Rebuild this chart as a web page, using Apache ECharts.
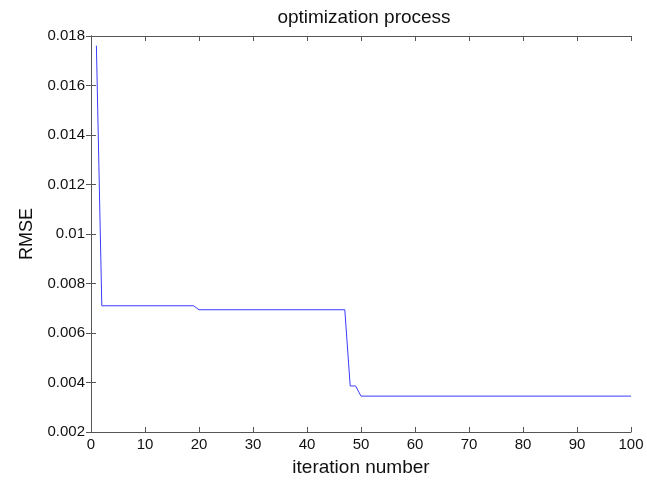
<!DOCTYPE html>
<html>
<head>
<meta charset="utf-8">
<script src="https://cdn.jsdelivr.net/npm/echarts@6/dist/echarts.min.js"></script>
<style>
  html, body { margin: 0; padding: 0; background: #fff; }
  #chart { width: 647px; height: 482px; }
</style>
</head>
<body>
<div id="chart"></div>
<script>
  // iteration numbers where the curve changes, and the RMSE at each
  var iterations = [1, 2, 19, 20, 47, 48, 49, 50, 100];
  var rmse = [0.01761, 0.00710, 0.00710, 0.00694, 0.00694, 0.00386, 0.00386, 0.00345, 0.00345];

  var xTicks = {min: 0, max: 100, interval: 10};
  var yTicks = {min: 0.002, max: 0.018, interval: 0.002};

  var font = 'Liberation Sans, Arial, sans-serif';
  var axisColor = '#555';

  function boxAxis(base, showLabel) {
    return Object.assign({
      type: 'value',
      axisLine: {show: true, lineStyle: {color: axisColor, width: 1}},
      axisTick: {show: true, inside: true, length: 5, lineStyle: {color: axisColor}},
      splitLine: {show: false},
      axisLabel: {show: showLabel, color: '#111', fontSize: 15, fontFamily: font},
    }, base);
  }

  var chart = echarts.init(document.getElementById('chart'));
  var option = {
    animation: false,
    title: {
      text: 'optimization process',
      left: 359,
      textAlign: 'center',
      top: 3,
      textStyle: {fontSize: 19, fontWeight: 'normal', color: '#111', fontFamily: font},
    },
    grid: {left: 91, right: 16, top: 36, bottom: 48},
    xAxis: [
      boxAxis(Object.assign({
        position: 'bottom',
        name: 'iteration number',
        nameLocation: 'middle',
        nameGap: 26,
        nameTextStyle: {fontSize: 19, color: '#111', fontFamily: font},
      }, xTicks), true),
      boxAxis(Object.assign({position: 'top'}, xTicks), false),
    ],
    yAxis: [
      boxAxis(Object.assign({
        position: 'left',
        name: 'RMSE',
        nameLocation: 'middle',
        nameGap: 55,
        nameRotate: 90,
        nameTextStyle: {fontSize: 18, color: '#111', fontFamily: font},
      }, yTicks), true),
      boxAxis(Object.assign({position: 'right'}, yTicks), false),
    ],
    series: [{
      type: 'line',
      data: iterations.map(function (it, i) { return [it, rmse[i]]; }),
      showSymbol: false,
      lineStyle: {color: '#3b3bff', width: 1},
    }],
  };
  option.yAxis[0].axisLabel.formatter = function (v) { return String(+v.toFixed(3)); };
  option.yAxis[0].axisLabel.margin = 6;
  option.xAxis[0].axisLabel.margin = 5;
  chart.setOption(option);
</script>
</body>
</html>
